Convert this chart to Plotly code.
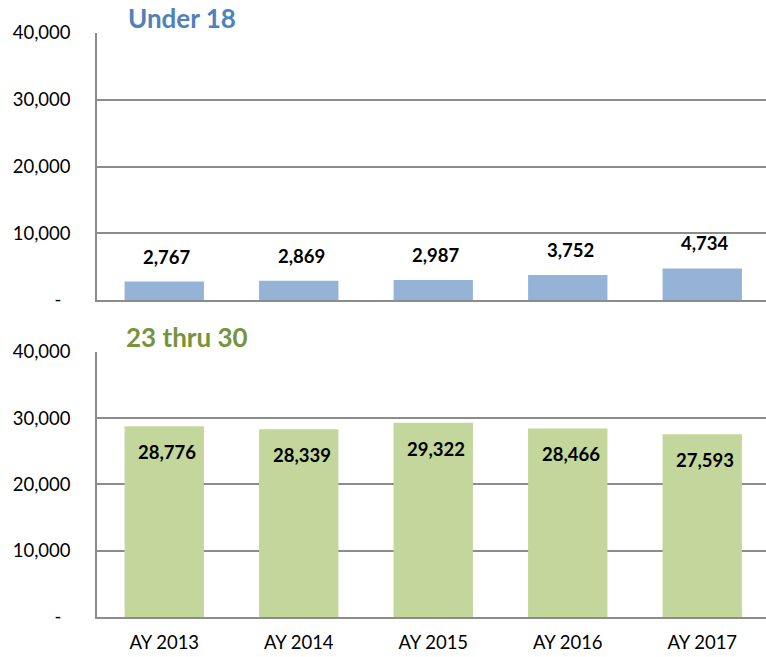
import plotly.graph_objects as go

categories = ["AY 2013", "AY 2014", "AY 2015", "AY 2016", "AY 2017"]
under18 = [2767, 2869, 2987, 3752, 4734]
age23_30 = [28776, 28339, 29322, 28466, 27593]
panel_titles = ["Under 18", "23 thru 30"]
tick_vals = [0, 10000, 20000, 30000, 40000]
tick_text = ["-\u2002", "10,000", "20,000", "30,000", "40,000"]

FONT = "Lato"
GRID = "#8c8c8c"
BLUE_BAR = "#95B3D7"
GREEN_BAR = "#C3D69B"
BLUE_T = "#4F81BD"
GREEN_T = "#77933C"

fig = go.Figure()
fig.add_trace(go.Bar(x=categories, y=under18, marker_color=BLUE_BAR,
                     xaxis="x", yaxis="y", hoverinfo="skip", showlegend=False))
fig.add_trace(go.Bar(x=categories, y=age23_30, marker_color=GREEN_BAR,
                     xaxis="x2", yaxis="y2", hoverinfo="skip", showlegend=False))

annotations = []
for c, v in zip(categories, under18):
    annotations.append(dict(x=c, y=v, xref="x", yref="y", text=f"<b>{v:,}</b>",
                            showarrow=False, yshift=25, xshift=3,
                            font=dict(family=FONT, size=18.5, color="black")))
for c, v in zip(categories, age23_30):
    annotations.append(dict(x=c, y=v, xref="x2", yref="y2", text=f"<b>{v:,}</b>",
                            showarrow=False, yshift=-26, xshift=3,
                            font=dict(family=FONT, size=18.5, color="black")))

annotations.append(dict(x=0.044, y=1, xref="paper", yref="y domain", text=f"<b>{panel_titles[0]}</b>",
                        showarrow=False, xanchor="left", yanchor="middle", yshift=15,
                        font=dict(family=FONT, size=26, color=BLUE_T)))
annotations.append(dict(x=0.040, y=1, xref="paper", yref="y2 domain", text=f"<b>{panel_titles[1]}</b>",
                        showarrow=False, xanchor="left", yanchor="middle", yshift=15,
                        font=dict(family=FONT, size=26, color=GREEN_T)))

xrange = [-0.5, 4.474]
yax = dict(range=[0, 40000], tickvals=tick_vals, ticktext=tick_text,
           showgrid=True, gridcolor=GRID, gridwidth=1.5,
           showline=True, linecolor=GRID, linewidth=1.5,
           zeroline=False, ticks="", ticklabelstandoff=21, automargin=False,
           tickfont=dict(family=FONT, size=18.5, color="black"), fixedrange=True)
xax = dict(range=xrange, showgrid=False, showline=True, linecolor=GRID, linewidth=1.5,
           zeroline=False, ticks="", fixedrange=True, automargin=False,
           ticklabelstandoff=8,
           tickfont=dict(family=FONT, size=18.5, color="black"))

fig.update_layout(
    template="none",
    width=766, height=657,
    margin=dict(l=97, r=0, t=33, b=40, pad=0),
    paper_bgcolor="white", plot_bgcolor="white",
    bargap=0.41,
    xaxis=dict(**xax, domain=[0, 1], anchor="y", showticklabels=False),
    yaxis=dict(**yax, domain=[0.5428, 1], anchor="x"),
    xaxis2=dict(**xax, domain=[0, 1], anchor="y2", showticklabels=True),
    yaxis2=dict(**yax, domain=[0, 0.4538], anchor="x2"),
    annotations=annotations,
    font=dict(family=FONT),
)

fig.write_html("out.html", config={"displayModeBar": False},
               post_script="document.body.style.margin='0';")
